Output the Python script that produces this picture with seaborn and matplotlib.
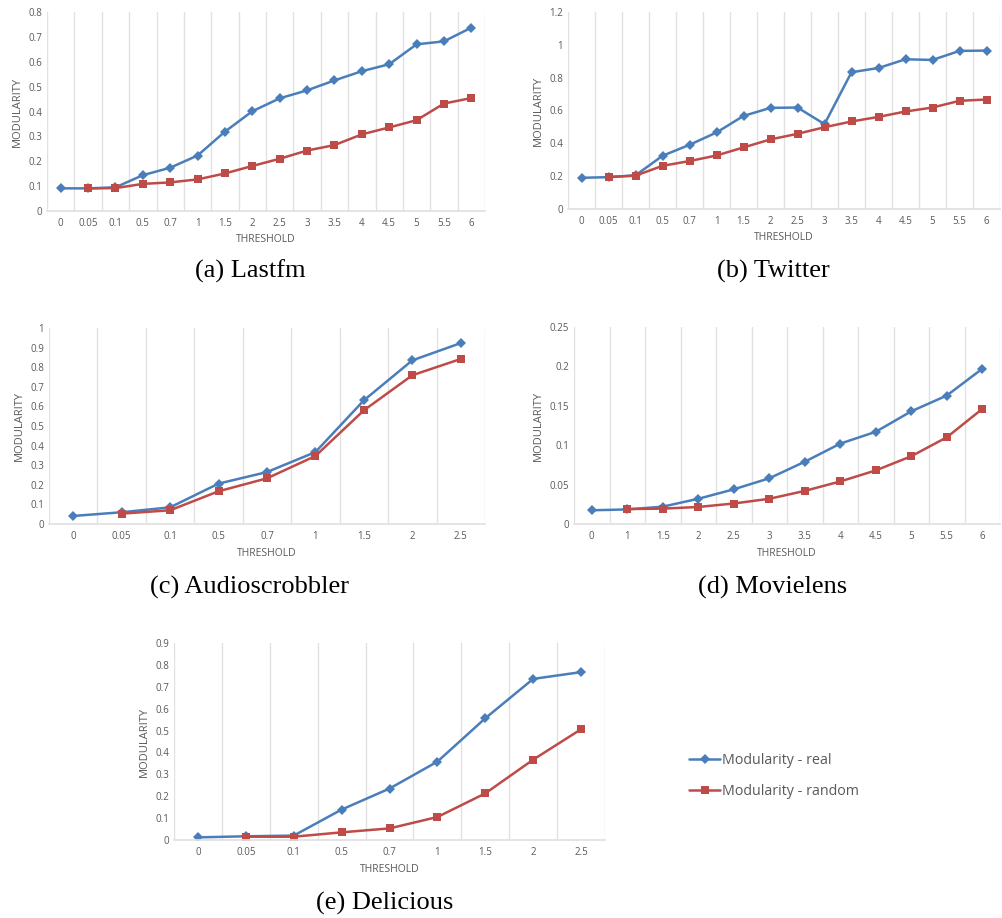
import numpy as np
import pandas as pd
import matplotlib
matplotlib.use("Agg")
import matplotlib.pyplot as plt
import seaborn as sns

sns.set_theme(style="white")
plt.rcParams["font.family"] = ["Open Sans", "DejaVu Sans"]

# ---- data ----
lastfm_thr = ["0", "0.05", "0.1", "0.5", "0.7", "1", "1.5", "2", "2.5", "3",
              "3.5", "4", "4.5", "5", "5.5", "6"]
lastfm_real = [0.091, 0.091, 0.095, 0.144, 0.174, 0.223, 0.319, 0.401, 0.453, 0.485,
               0.525, 0.562, 0.590, 0.670, 0.682, 0.737]
lastfm_random = [np.nan, 0.091, 0.092, 0.109, 0.115, 0.127, 0.151, 0.181, 0.210, 0.243,
                 0.265, 0.308, 0.336, 0.365, 0.432, 0.454]

twitter_thr = lastfm_thr
twitter_real = [0.190, 0.194, 0.205, 0.324, 0.391, 0.466, 0.567, 0.616, 0.618, 0.517,
                0.833, 0.859, 0.912, 0.908, 0.963, 0.965]
twitter_random = [np.nan, 0.195, 0.203, 0.263, 0.292, 0.326, 0.375, 0.424, 0.458, 0.498,
                  0.533, 0.561, 0.594, 0.618, 0.659, 0.667]

audio_thr = ["0", "0.05", "0.1", "0.5", "0.7", "1", "1.5", "2", "2.5"]
audio_real = [0.041, 0.060, 0.085, 0.206, 0.265, 0.367, 0.631, 0.835, 0.923]
audio_random = [np.nan, 0.053, 0.070, 0.167, 0.233, 0.347, 0.580, 0.759, 0.842]

movie_thr = ["0", "1", "1.5", "2", "2.5", "3", "3.5", "4", "4.5", "5", "5.5", "6"]
movie_real = [0.0174, 0.0185, 0.022, 0.032, 0.044, 0.058, 0.079, 0.102, 0.117, 0.143,
              0.163, 0.197]
movie_random = [np.nan, 0.019, 0.0195, 0.0216, 0.026, 0.032, 0.042, 0.054, 0.068, 0.086,
                0.110, 0.146]

delicious_thr = audio_thr
delicious_real = [0.012, 0.017, 0.020, 0.139, 0.235, 0.358, 0.556, 0.736, 0.767]
delicious_random = [np.nan, 0.015, 0.015, 0.035, 0.053, 0.105, 0.213, 0.367, 0.506]

BLUE = "#4a7ebb"
RED = "#be4b48"
GRID = "#e1e1e1"
TEXT = "#595959"

W, H = 1002, 918
fig = plt.figure(figsize=(W / 100, H / 100), dpi=100)


def px_axes(x0, x1, y0, y1):
    return fig.add_axes([x0 / W, 1 - y1 / H, (x1 - x0) / W, (y1 - y0) / H])


def draw(ax, thr, real, rand, yticks, ylabels):
    n = len(thr)
    df = pd.DataFrame({"pos": np.arange(n), "real": real, "random": rand})
    sns.lineplot(data=df, x="pos", y="real", ax=ax, color=BLUE, lw=1.8,
                 marker="D", markersize=5, markeredgewidth=0,
                 label="Modularity - real")
    sns.lineplot(data=df.dropna(), x="pos", y="random", ax=ax, color=RED, lw=1.8,
                 marker="s", markersize=6, markeredgewidth=0,
                 label="Modularity - random")
    ax.set_xlim(-0.5, n - 0.5)
    ax.set_ylim(yticks[0], yticks[-1])
    ax.set_xticks(np.arange(n))
    ax.set_xticklabels(thr)
    ax.set_yticks(yticks)
    ax.set_yticklabels(ylabels)
    ax.set_xticks(np.arange(n + 1) - 0.5, minor=True)
    ax.grid(False)
    ax.grid(which="minor", axis="x", color=GRID, lw=1)
    ax.tick_params(which="both", length=0, colors=TEXT, labelsize=7)
    ax.tick_params(axis="x", pad=5)
    for s in ["top", "left", "right"]:
        ax.spines[s].set_visible(False)
    ax.spines["bottom"].set_color(GRID)
    ax.set_ylabel("MODULARITY", color=TEXT, fontsize=8)
    ax.set_xlabel("THRESHOLD", color=TEXT, fontsize=7.5)
    ax.get_legend().remove()
    ax.set_facecolor("white")


ax_a = px_axes(47, 485, 12, 211)
draw(ax_a, lastfm_thr, lastfm_real, lastfm_random,
     np.linspace(0, 0.8, 9), ["0", "0.1", "0.2", "0.3", "0.4", "0.5", "0.6", "0.7", "0.8"])

ax_b = px_axes(568, 1000, 12, 209)
draw(ax_b, twitter_thr, twitter_real, twitter_random,
     np.linspace(0, 1.2, 7), ["0", "0.2", "0.4", "0.6", "0.8", "1", "1.2"])

ax_c = px_axes(49, 485, 328, 524)
draw(ax_c, audio_thr, audio_real, audio_random,
     np.linspace(0, 1, 11), ["0", "0.1", "0.2", "0.3", "0.4", "0.5", "0.6", "0.7", "0.8", "0.9", "1"])

ax_d = px_axes(574, 1000, 327, 524)
draw(ax_d, movie_thr, movie_real, movie_random,
     np.linspace(0, 0.25, 6), ["0", "0.05", "0.1", "0.15", "0.2", "0.25"])

ax_e = px_axes(174, 605, 643, 840)
draw(ax_e, delicious_thr, delicious_real, delicious_random,
     np.linspace(0, 0.9, 10), ["0", "0.1", "0.2", "0.3", "0.4", "0.5", "0.6", "0.7", "0.8", "0.9"])

# legend
handles, labels = ax_e.get_legend_handles_labels()
leg = fig.legend(handles, labels, loc="center left",
                 bbox_to_anchor=(676 / W, 1 - 776 / H), frameon=False,
                 fontsize=10.3, labelspacing=1.1, handlelength=2.2, handletextpad=0.1)
for t in leg.get_texts():
    t.set_color(TEXT)

# captions
cap = dict(ha="center", va="center", fontsize=19, family="Liberation Serif", color="black")
fig.text(250 / W, 1 - 271 / H, "(a) Lastfm", **cap)
fig.text(773 / W, 1 - 271 / H, "(b) Twitter", **cap)
fig.text(250 / W, 1 - 587 / H, "(c) Audioscrobbler", **cap)
fig.text(773 / W, 1 - 587 / H, "(d) Movielens", **cap)
fig.text(385 / W, 1 - 903 / H, "(e) Delicious", **cap)

fig.savefig("out.png", dpi=100, facecolor="white")
